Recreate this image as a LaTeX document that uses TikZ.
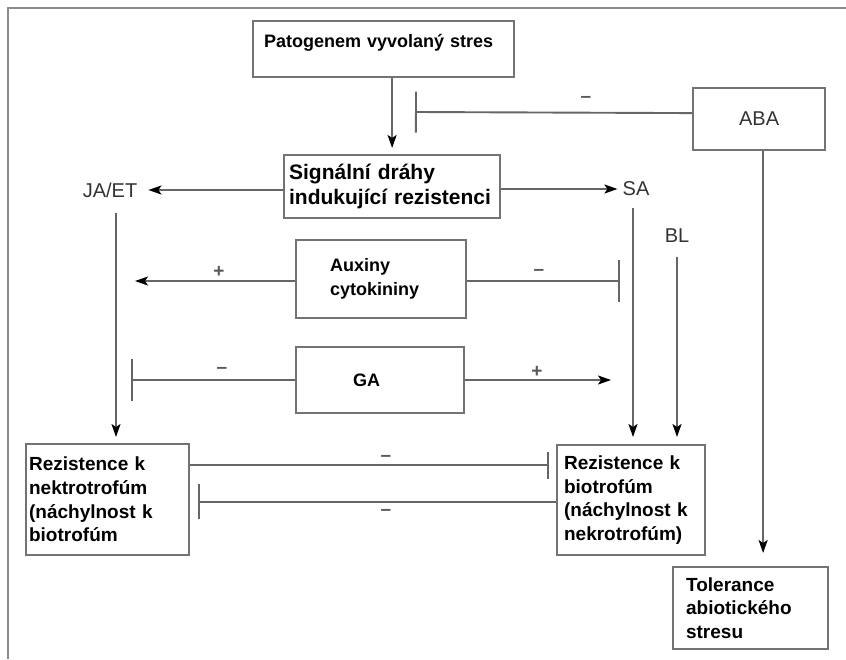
\documentclass[tikz,border=0pt]{standalone}
\usepackage{fontspec}
\setmainfont{Liberation Sans}
\usetikzlibrary{arrows.meta}

\begin{document}
\begin{tikzpicture}[x=1pt, y=-1pt,
    box/.style={draw=black!55, line width=2.2pt, anchor=north west, inner ysep=0pt, align=left},
    lab/.style={inner sep=5pt, text=black!80, font=\fontsize{20}{24}\selectfont},
    sign/.style={inner sep=0pt, text=black!65, font=\fontsize{19}{20}\selectfont\bfseries},
    conn/.style={draw=black!60, line width=1.9pt},
    arr/.style={conn, -{Stealth[length=13pt, width=9pt, inset=3pt, color=black]}},
    inhibit/.style={conn, -{Bar[width=#1]}}]
  \useasboundingbox (0,0) rectangle (846,659);
  \draw[draw=black!45, line width=2pt] (846,8) -- (8,8) -- (8,659);

  % boxes
  \node[box, minimum width=261pt, minimum height=56pt, inner xsep=11pt, text width=239pt,
        text height=26pt, text depth=29pt, font=\fontsize{18}{22}\selectfont\bfseries]
        (pat) at (252,20) {Patogenem vyvolaný stres};
  \node[box, minimum width=216pt, minimum height=63pt, inner xsep=5pt, text width=206pt,
        font=\fontsize{21}{25}\selectfont\bfseries]
        (sig) at (283,154) {Signální dráhy\\indukující rezistenci};
  \node[box, minimum width=132pt, minimum height=62pt, align=center, text=black!80,
        font=\fontsize{20}{24}\selectfont]
        (aba) at (692,87) {ABA};
  \node[box, minimum width=170pt, minimum height=78pt, inner xsep=0pt, text width=102pt,
        font=\fontsize{18}{24}\selectfont\bfseries]
        (aux) at (295,239) {Auxiny\\cytokininy};
  \node[box, minimum width=168pt, minimum height=66pt, inner xsep=0pt, text width=54pt,
        font=\fontsize{18}{22}\selectfont\bfseries]
        (ga) at (295,346) {GA};
  \node[box, minimum width=163pt, minimum height=111pt, inner xsep=3pt, text width=157pt,
        font=\fontsize{19}{23.7}\selectfont\bfseries]
        (nekro) at (25,443) {Rezistence k\\nektrotrofúm\\(náchylnost k\\biotrofúm};
  \node[box, minimum width=148pt, minimum height=110pt, inner xsep=7pt, text width=134pt,
        font=\fontsize{19}{23.7}\selectfont\bfseries]
        (bio) at (556,444) {Rezistence k\\biotrofúm\\(náchylnost k\\nekrotrofúm)};
  \node[box, minimum width=155pt, minimum height=82pt, inner xsep=13pt, text width=129pt,
        font=\fontsize{19}{23.3}\selectfont\bfseries]
        (tol) at (672,566) {Tolerance\\abiotického\\stresu};

  % hormones
  \node[lab] (jaet) at (110,190) {JA/ET};
  \node[lab] (sa) at (636,189) {SA};
  \node[lab] (bl) at (677,236) {BL};

  % free ends
  \coordinate (abastop) at (415,112);
  \coordinate (auxend) at (135,281);
  \coordinate (auxbar) at (620,281);
  \coordinate (gabar) at (131,380);
  \coordinate (gaend) at (611,380);

  \draw[arr, shorten >=6pt] (pat.south -| sig.north) -- (sig.north);
  \draw[inhibit=41pt] ([yshift=6pt]aba.west) -- (abastop);
  \node[sign] (m1) at (586,99) {–};
  \draw[arr, shorten >=6pt] (sig.west |- jaet) -- (jaet.east);
  \draw[arr] (sig.east |- sa) -- (sa.west);

  \draw[arr, shorten <=10pt, shorten >=6pt] ([xshift=6pt]jaet.south) -- ([xshift=6pt]jaet.south |- nekro.north);
  \draw[arr, shorten <=7pt, shorten >=7pt] ([xshift=-3pt]sa.south) -- ([xshift=-3pt]sa.south |- bio.north);
  \draw[arr, shorten <=9pt, shorten >=7pt] (bl.south) -- (bl.south |- bio.north);
  \draw[arr, shorten >=13pt] ([xshift=4pt]aba.south) -- ([xshift=4pt]aba.south |- tol.north);

  \draw[arr] (aux.west |- auxend) -- (auxend);
  \node[sign] (p1) at (219,272) {+};
  \draw[inhibit=42pt] (aux.east |- auxbar) -- (auxbar);
  \node[sign] (m2) at (539,272) {–};
  \draw[inhibit=42pt] (ga.west |- gabar) -- (gabar);
  \node[sign] (m3) at (222,370) {–};
  \draw[arr] (ga.east |- gaend) -- (gaend);
  \node[sign] (p2) at (537,372) {+};

  \draw[inhibit=27pt, shorten >=7pt] ([yshift=34.5pt]nekro.east) -- ([yshift=34.5pt]nekro.east -| bio.west);
  \node[sign] (m4) at (386,458) {–};
  \draw[inhibit=35pt, shorten >=8pt] ([yshift=-1.5pt]bio.west) -- ([yshift=-1.5pt]bio.west -| nekro.east);
  \node[sign] (m5) at (386,512) {–};
\end{tikzpicture}
\end{document}
